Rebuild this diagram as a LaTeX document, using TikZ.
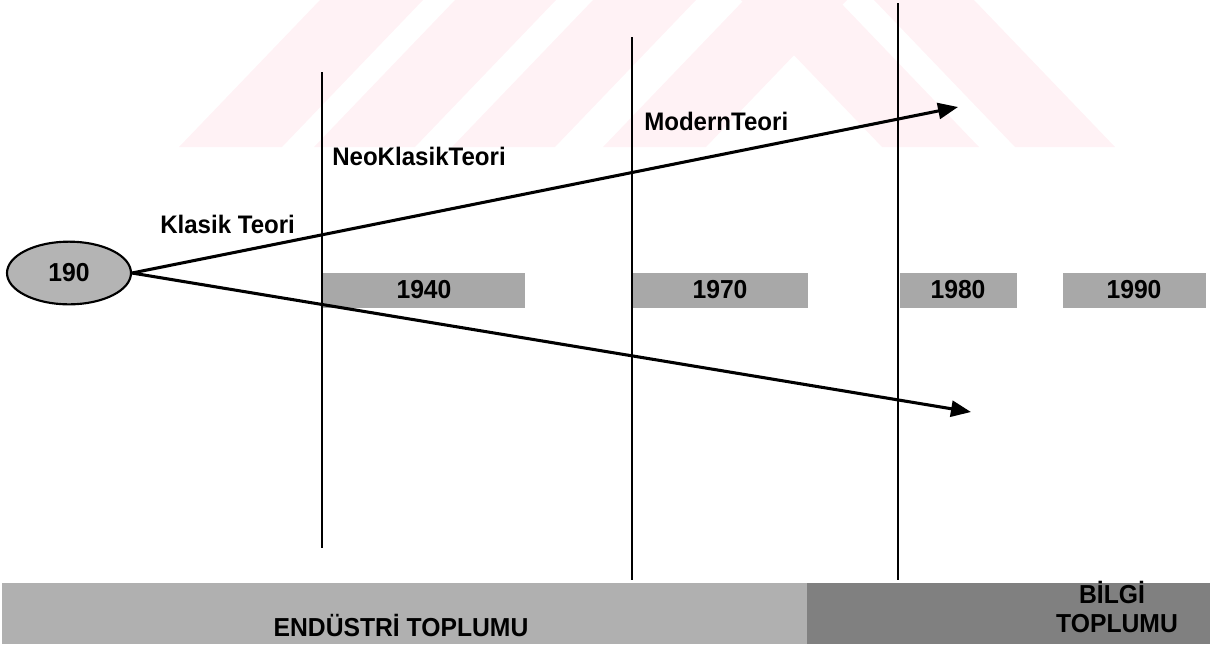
\documentclass[tikz,border=0pt]{standalone}
\usepackage{fontspec}
\setmainfont{Liberation Sans}
\newfontfamily\condfont[FakeStretch=0.95]{Liberation Sans}
\usetikzlibrary{arrows.meta,shapes.geometric}
\definecolor{wm}{RGB}{255,242,245}
\definecolor{boxgray}{RGB}{168,168,168}
\definecolor{ellgray}{RGB}{180,180,180}
\definecolor{barlight}{RGB}{176,176,176}
\definecolor{bardark}{RGB}{128,128,128}
\begin{document}
\begin{tikzpicture}[x=0.75pt,y=-0.75pt,
  yearbox/.style={fill=boxgray,draw=none,inner sep=0pt,minimum height=26.25pt,
    font=\condfont\fontsize{19.5}{20}\selectfont\bfseries},
  vline/.style={line width=1.4pt},
  arrowline/.style={line width=2.3pt,-{Triangle[length=15pt,width=12pt]}},
  label/.style={inner sep=0pt,anchor=base west,font=\condfont\fontsize{19}{22}\selectfont\bfseries},
  barlabel/.style={inner sep=0pt,align=center,font=\condfont\fontsize{19.5}{22}\selectfont\bfseries}]
\useasboundingbox (0,0) rectangle (1210,644);
% watermark stripes
\fill[wm] (179,147) -- (282,147) -- (423,0) -- (320,0) -- cycle;
\fill[wm] (314,147) -- (415,147) -- (556,0) -- (455,0) -- cycle;
\fill[wm] (452,147) -- (555,147) -- (696,0) -- (593,0) -- cycle;
\fill[wm] (603,147) -- (706,147) -- (847,0) -- (744,0) -- cycle;
\fill[wm] (882,147) -- (979,147) -- (838,0) -- (741,0) -- cycle;
\fill[wm] (1015,147) -- (1115,147) -- (974,0) -- (874,0) -- cycle;
% bottom bars
\fill[barlight] (2,583) rectangle (807,644);
\fill[bardark] (807,583) rectangle (1210,644);
\node[barlabel,anchor=base] (endustri) at (401,636) {ENDÜSTRİ TOPLUMU};
\node[barlabel,anchor=base] (bilgi) at (1112,603) {BİLGİ};
\node[barlabel,anchor=base] (toplumu) at (1117,632) {TOPLUMU};
% year boxes
\node[yearbox,minimum width=151.5pt] (y1940) at (424,290) {1940};
\node[yearbox,minimum width=132pt] (y1970) at (720,290) {1970};
\node[yearbox,minimum width=87.75pt] (y1980) at (958,290) {1980};
\node[yearbox,minimum width=107.25pt] (y1990) at (1134,290) {1990};
% vertical lines
\coordinate (v1t) at (322,72);  \coordinate (v1b) at (322,548);
\coordinate (v2t) at (632,37);  \coordinate (v2b) at (632,580);
\coordinate (v3t) at (898,3);   \coordinate (v3b) at (898,580);
\draw[vline] (v1t) -- (v1b);
\draw[vline] (v2t) -- (v2b);
\draw[vline] (v3t) -- (v3b);
% start ellipse
\node[ellipse,draw,line width=1.6pt,fill=ellgray,minimum width=93pt,minimum height=47pt,
  inner sep=0pt,font=\condfont\fontsize{19.5}{20}\selectfont\bfseries] (start) at (69,273) {190};
% arrows
\coordinate (upend) at (958,107);
\coordinate (lowend) at (971,412);
\draw[arrowline] (start.east) -- (upend);
\draw[arrowline] (start.east) -- (lowend);
% labels
\node[label] (klasik) at (160,233) {Klasik Teori};
\node[label] (neo) at (332,165) {NeoKlasikTeori};
\node[label] (modern) at (644,130) {ModernTeori};
\end{tikzpicture}
\end{document}
